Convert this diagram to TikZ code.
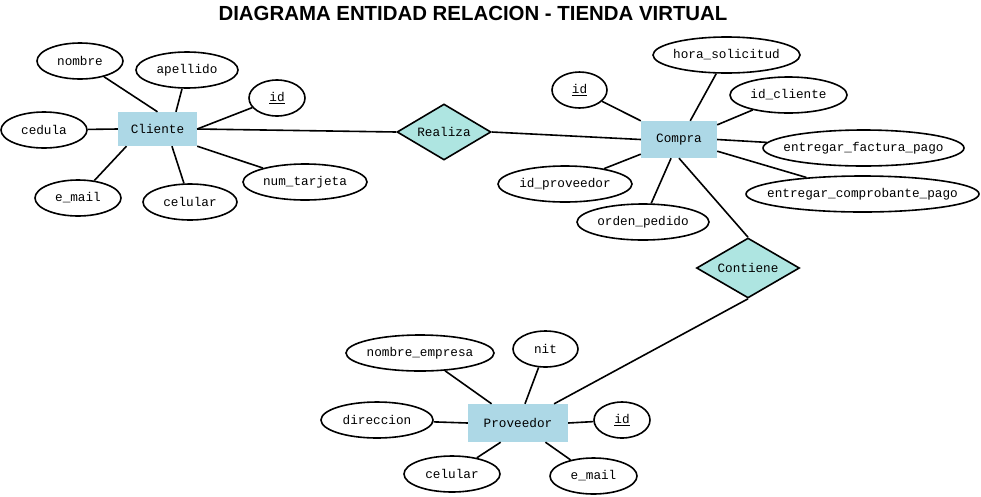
\documentclass[tikz,border=0pt]{standalone}
\usepackage{fontspec}
\setmainfont{Liberation Serif}
\newfontfamily\monofont{Liberation Mono}
\newfontfamily\titlefont{Liberation Sans}
\usetikzlibrary{shapes.geometric}
\definecolor{entityblue}{RGB}{173,216,230}
\definecolor{relationcyan}{RGB}{174,229,225}
\begin{document}
\begin{tikzpicture}
[x=1pt,y=-1pt,
  entitydecorate/.style={shape=rectangle,fill=entityblue,inner sep=0pt,%
    font=\monofont\fontsize{12.7}{14}\selectfont},
  attrdecorate/.style={shape=ellipse,draw,line width=1.6pt,fill=white,%
    inner sep=0pt,minimum height=36pt,font=\monofont\fontsize{12.7}{14}\selectfont},
  reldecorate/.style={shape=diamond,draw,line width=1.6pt,fill=relationcyan,%
    inner sep=0pt,font=\monofont\fontsize{12.7}{14}\selectfont},
  linkdecorate/.style={line width=1.6pt}]
\useasboundingbox (0,0) rectangle (981,496);
%% title
\node (title) at (473,13) {\titlefont\bfseries\fontsize{20.4}{24}\selectfont
  DIAGRAMA ENTIDAD RELACION - TIENDA VIRTUAL};
%% entities
\foreach \nodename/\x/\y/\w/\h in {Cliente/157.5/129/79/34,
  Compra/679/139.5/76/37, Proveedor/518/423/100/38} {
  \node (\nodename) at (\x,\y) [entitydecorate,minimum width=\w pt,minimum height=\h pt] {\nodename};
}
%% relations
\foreach \nodename/\x/\y/\w/\h in {Realiza/444/132/94/56, Contiene/748/268/103/60} {
  \node (\nodename) at (\x,\y) [reldecorate,minimum width=\w pt,minimum height=\h pt]
    {\makebox[0pt]{\nodename}};
}
%% attributes
\foreach \nodename/\x/\y/\w/\txt in {cnombre/80/61/86/nombre,
  capellido/187/70/102/apellido, cid/277/98/56/\underline{id},
  ccedula/44/130/86/cedula, cemail/78/198/86/e\_mail,
  ccelular/190/202/94/celular, ctarjeta/305/182/124/num\_tarjeta,
  kid/579.5/90/55/\underline{id}, khora/726.5/55/147/hora\_solicitud,
  kidcliente/788.5/95/117/id\_cliente, kfactura/863.5/148/201/entregar\_factura\_pago,
  kcomprobante/862.5/194/233/entregar\_comprobante\_pago,
  kidprov/565/184/134/id\_proveedor, korden/643/222/132/orden\_pedido,
  pnombre/420/353/148/nombre\_empresa, pnit/545.5/349/65/nit,
  pdireccion/377/420/112/direccion, pid/622/420/56/\underline{id},
  pcelular/452/474/96/celular, pemail/593.5/476/87/e\_mail} {
  \node (\nodename) at (\x,\y) [attrdecorate,minimum width=\w pt] {\makebox[0pt]{\txt}};
}
%% links
\path
\foreach \startnode/\endnode in {Cliente.north/cnombre, Cliente.43/capellido,
  Cliente.east/cid, Cliente.west/ccedula, Cliente.209/cemail,
  Cliente.310/ccelular, Cliente.south east/ctarjeta,
  Compra.north west/kid, Compra.59/khora, Compra.21/kidcliente,
  Compra.east/kfactura, Compra.343/kcomprobante, Compra.201/kidprov,
  Compra.247/korden,
  Proveedor.144/pnombre, Proveedor.70/pnit, Proveedor.west/pdireccion,
  Proveedor.east/pid, Proveedor.228/pcelular, Proveedor.325/pemail,
  Cliente.east/Realiza.west, Realiza.east/Compra.west,
  Compra.south/Contiene.north, Contiene.south/Proveedor.28} {
  (\startnode) edge[linkdecorate] (\endnode)
};
\end{tikzpicture}
\end{document}
